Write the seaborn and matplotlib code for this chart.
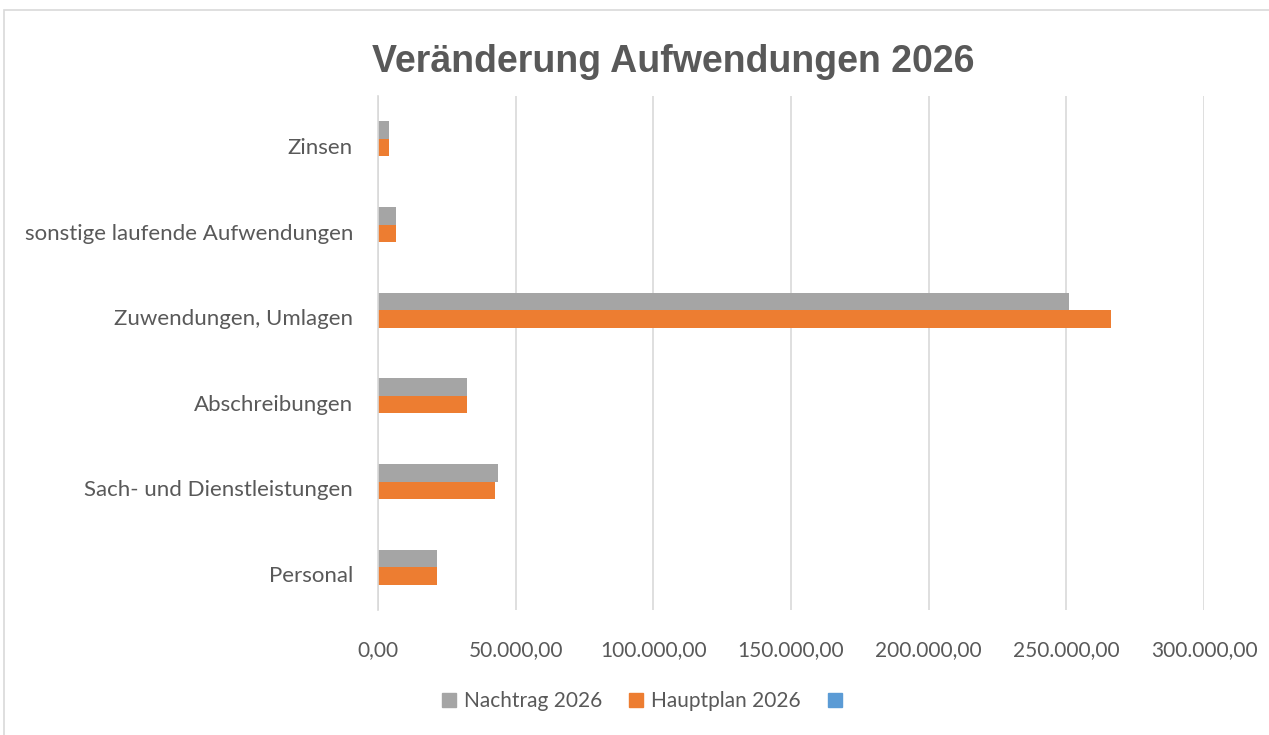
import pandas as pd
import seaborn as sns
import matplotlib.pyplot as plt
from matplotlib.ticker import FuncFormatter, MultipleLocator
from matplotlib.patches import Patch, Rectangle
from matplotlib.transforms import ScaledTranslation

# Daten
kategorien = ['Zinsen', 'sonstige laufende Aufwendungen', 'Zuwendungen, Umlagen',
              'Abschreibungen', 'Sach- und Dienstleistungen', 'Personal']
nachtrag = [3900, 6500, 251000, 32200, 43700, 21300]
hauptplan = [3900, 6500, 266300, 32200, 42400, 21300]

df = pd.DataFrame({
    'Kategorie': kategorien * 2,
    'Wert': nachtrag + hauptplan,
    'Serie': ['Nachtrag 2026'] * len(kategorien) + ['Hauptplan 2026'] * len(kategorien),
})

sns.set_style('white')
plt.rcParams['font.family'] = ['Lato', 'DejaVu Sans']

fig = plt.figure(figsize=(12.69, 7.35), dpi=100)
ax = fig.add_axes([378 / 1269, 1 - 610 / 735, (1204 - 378) / 1269, (610 - 96) / 735])

farben = {'Nachtrag 2026': '#A5A5A5', 'Hauptplan 2026': '#ED7D31'}
sns.barplot(data=df, x='Wert', y='Kategorie', hue='Serie', order=kategorien,
            hue_order=['Nachtrag 2026', 'Hauptplan 2026'], palette=farben,
            orient='h', width=0.41, gap=0, saturation=1, linewidth=0,
            ax=ax, legend=False)

ax.set_xlim(0, 300000)
ax.xaxis.set_major_locator(MultipleLocator(50000))
ax.xaxis.set_major_formatter(FuncFormatter(
    lambda v, p: f'{v:,.2f}'.replace(',', 'X').replace('.', ',').replace('X', '.')))
ax.grid(axis='x', color='#D9D9D9', linewidth=1.2)
ax.set_axisbelow(True)
for s in ['top', 'right', 'bottom']:
    ax.spines[s].set_visible(False)
ax.spines['left'].set_color('#D9D9D9')
ax.spines['left'].set_linewidth(1.2)
ax.set_xlabel('')
ax.set_ylabel('')
ax.tick_params(axis='both', length=0, colors='#595959')
ax.tick_params(axis='y', labelsize=16, pad=18)
ax.tick_params(axis='x', labelsize=15, pad=22)

# Beschriftungen leicht nach unten versetzt wie im Original
versatz = ScaledTranslation(0, -7 / 100, fig.dpi_scale_trans)
for lbl in ax.get_yticklabels():
    lbl.set_transform(lbl.get_transform() + versatz)

fig.text(673 / 1269, 1 - 62 / 735, 'Veränderung Aufwendungen 2026', ha='center', va='center',
         fontsize=27, fontweight='bold', color='#595959', family='Liberation Sans')

# Rahmen
fig.patches.append(Rectangle((4 / 1269, -0.01), 1.1, 1 - 10 / 735 + 0.01, transform=fig.transFigure,
                             fill=False, edgecolor='#D9D9D9', linewidth=1.2))

handles = [Patch(color='#A5A5A5'), Patch(color='#ED7D31'), Patch(color='#5B9BD5')]
fig.legend(handles, ['Nachtrag 2026', 'Hauptplan 2026', ''], loc='center',
           bbox_to_anchor=(646 / 1269, 1 - 701 / 735), ncol=3, frameon=False,
           fontsize=15, labelcolor='#595959', handlelength=0.65, handleheight=0.65,
           handletextpad=0.4, columnspacing=1.3)

fig.savefig('out.png', dpi=100)
